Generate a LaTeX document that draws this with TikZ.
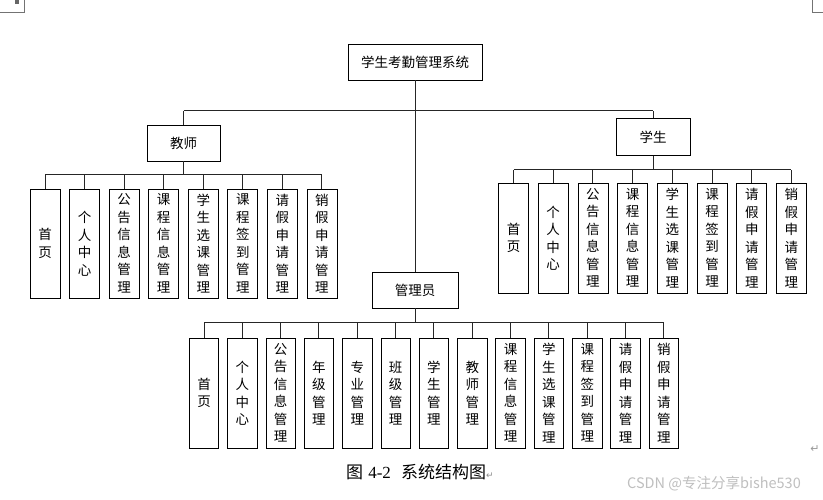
\documentclass[tikz,border=0pt]{standalone}
\usepackage{fontspec}
\setmainfont{Noto Sans CJK SC}
\newfontfamily\latinserif{Liberation Serif}
\newfontfamily\symfont{DejaVu Sans}
\begin{document}
\begin{tikzpicture}[x=1pt,y=-1pt,
  box/.style={draw=black,line width=0.8pt,fill=white,inner sep=0pt,align=center,
    font=\fontsize{13.5}{17.5}\selectfont},
  headbox/.style={box,minimum height=36pt},
  leafbox/.style={box,minimum width=30pt,minimum height=109pt},
  link/.style={draw=black!85,line width=1pt},
  cornermark/.style={draw=black!55,line width=0.6pt}]
\useasboundingbox (0,0) rectangle (823,500);
\fill[white] (0,0) rectangle (823,500);

% page corner marks
\draw[cornermark] (0,12) -- (24,12) -- (24,0);
\fill[black!60] (15,0) rectangle (19,4);
\draw[cornermark] (812,0) -- (812,12) -- (823,12);

% root and first level
\node[headbox,minimum width=134pt] (root) at (415,62) {学生考勤管理系统};
\node[headbox,minimum width=73pt] (teacher) at (183.5,143) {教师};
\node[headbox,minimum width=74pt,minimum height=37pt] (student) at (653,137) {学生};
\node[headbox,minimum width=86pt] (admin) at (415,290) {管理员};

\coordinate (topbus) at (415,111);
\draw[link] (root.south) -- (admin.north);
\draw[link] (teacher.north |- topbus) -- (student.north |- topbus);
\draw[link] (teacher.north) -- (teacher.north |- topbus);
\draw[link] (student.north) -- (student.north |- topbus);

% teacher modules
\foreach \lab [count=\i] in {{首\\页},{个\\人\\中\\心},{公\\告\\信\\息\\管\\理},
  {课\\程\\信\\息\\管\\理},{学\\生\\选\\课\\管\\理},{课\\程\\签\\到\\管\\理},
  {请\\假\\申\\请\\管\\理},{销\\假\\申\\请\\管\\理}}
  \node[leafbox] (t\i) at ({45+39.57*(\i-1)},243.5) {\lab};
\coordinate (tbus) at (183.5,175);
\draw[link] (teacher.south) -- (teacher.south |- tbus);
\draw[link] (t1.north |- tbus) -- (t8.north |- tbus);
\foreach \i in {1,...,8} \draw[link] (t\i.north) -- (t\i.north |- tbus);

% student modules
\foreach \lab [count=\i] in {{首\\页},{个\\人\\中\\心},{公\\告\\信\\息\\管\\理},
  {课\\程\\信\\息\\管\\理},{学\\生\\选\\课\\管\\理},{课\\程\\签\\到\\管\\理},
  {请\\假\\申\\请\\管\\理},{销\\假\\申\\请\\管\\理}}
  \node[leafbox,minimum height=110pt] (s\i) at ({513.5+39.71*(\i-1)},238) {\lab};
\coordinate (sbus) at (653,170);
\draw[link] (student.south) -- (student.south |- sbus);
\draw[link] (s1.north |- sbus) -- (s8.north |- sbus);
\foreach \i in {1,...,8} \draw[link] (s\i.north) -- (s\i.north |- sbus);

% administrator modules
\foreach \lab [count=\i] in {{首\\页},{个\\人\\中\\心},{公\\告\\信\\息\\管\\理},
  {年\\级\\管\\理},{专\\业\\管\\理},{班\\级\\管\\理},{学\\生\\管\\理},
  {教\\师\\管\\理},{课\\程\\信\\息\\管\\理},{学\\生\\选\\课\\管\\理},
  {课\\程\\签\\到\\管\\理},{请\\假\\申\\请\\管\\理},{销\\假\\申\\请\\管\\理}}
  \node[leafbox,minimum width=29.5pt,minimum height=110pt] (a\i) at ({204+38.33*(\i-1)},393) {\lab};
\coordinate (abus) at (415,322);
\draw[link] (admin.south) -- (admin.south |- abus);
\draw[link] (a1.north |- abus) -- (a13.north |- abus);
\foreach \i in {1,...,13} \draw[link] (a\i.north) -- (a\i.north |- abus);

% caption and paragraph marks
\node[anchor=west,inner sep=0pt,font=\fontsize{17}{20}\selectfont] (cap) at (346,472)
  {图\hspace{0.3em}{\latinserif 4-2}\hspace{0.6em}系统结构图{\symfont\fontsize{9}{10}\selectfont\color{black!45}↵}};
\node[inner sep=0pt,font=\symfont\fontsize{11}{12}\selectfont,text=black!40] (pm) at (815,449) {↵};

% watermark
\node[anchor=west,inner sep=0pt,text=black!25,font=\fontsize{14.5}{16}\selectfont] (wm) at (627,484)
  {CSDN @专注分享bishe530};
\end{tikzpicture}
\end{document}
